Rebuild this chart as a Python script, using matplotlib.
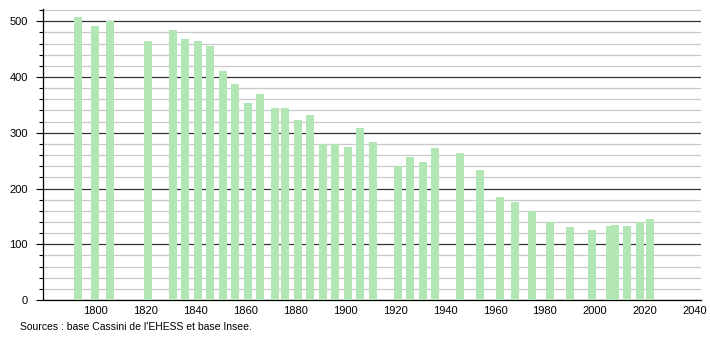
import matplotlib
matplotlib.use("Agg")
import matplotlib.pyplot as plt
from matplotlib.ticker import MultipleLocator

# census years and population
years = [1793, 1800, 1806, 1821, 1831, 1836, 1841, 1846, 1851, 1856,
         1861, 1866, 1872, 1876, 1881, 1886, 1891, 1896, 1901, 1906,
         1911, 1921, 1926, 1931, 1936, 1946, 1954, 1962, 1968, 1975,
         1982, 1990, 1999, 2006, 2008, 2013, 2018, 2022]
population = [507, 491, 501, 464, 484, 468, 464, 455, 410, 388,
              354, 369, 344, 345, 322, 331, 280, 280, 275, 308,
              284, 241, 257, 248, 272, 263, 234, 185, 176, 159,
              140, 131, 126, 132, 135, 133, 140, 146]
major_ticks = [0, 100, 200, 300, 400, 500]
year_ticks = [1800, 1820, 1840, 1860, 1880, 1900, 1920, 1940, 1960, 1980, 2000, 2020, 2040]
source_text = "Sources : base Cassini de l'EHESS et base Insee."

plt.rcParams['font.family'] = ['Liberation Sans', 'DejaVu Sans']
plt.rcParams['font.size'] = 8

fig = plt.figure(figsize=(7.1, 3.4), dpi=100)
ax = fig.add_axes([43 / 710, 40 / 340, 658 / 710, 291 / 340])

ax.bar(years, population, width=3.2, color='#b2e6b4', zorder=3)

ax.set_xlim(1779, 2042.5)
ax.set_ylim(0, 522)

ax.yaxis.set_minor_locator(MultipleLocator(20))
ax.set_yticks(major_ticks)
ax.set_xticks(year_ticks)

ax.grid(True, axis='y', which='minor', color='#c8c8c8', linewidth=0.9, zorder=1)
ax.grid(True, axis='y', which='major', color='#333333', linewidth=0.9, zorder=2)

for side in ['top', 'right']:
    ax.spines[side].set_visible(False)
ax.spines['left'].set_linewidth(0.9)
ax.spines['bottom'].set_linewidth(0.9)

ax.tick_params(axis='y', which='major', length=5, width=0.8, pad=6)
ax.tick_params(axis='y', which='minor', length=3, width=0.8)
ax.tick_params(axis='x', length=0, pad=4)

fig.text(20 / 710, 1 - 327 / 340, source_text, fontsize=7.5, va='center', ha='left')

fig.savefig('out.png', dpi=100)
